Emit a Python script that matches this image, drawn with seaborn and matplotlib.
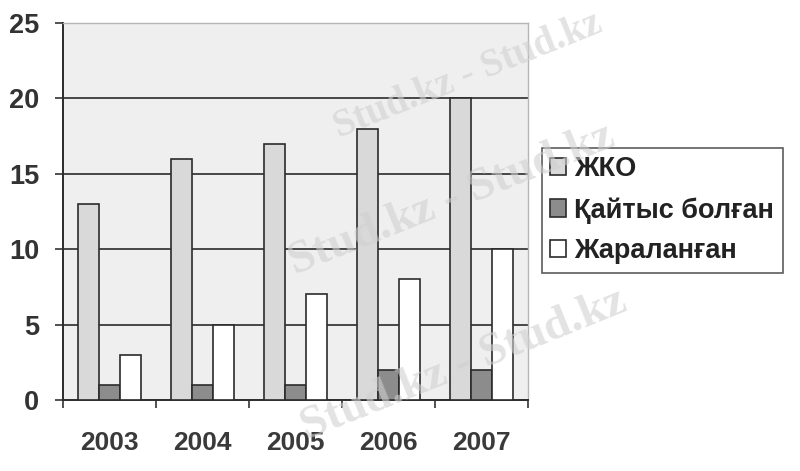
import matplotlib
matplotlib.use("Agg")
import matplotlib.pyplot as plt
import seaborn as sns
import pandas as pd
import numpy as np

# Road-traffic incident statistics by year
years = ["2003", "2004", "2005", "2006", "2007"]
series_names = ["ЖКО", "Қайтыс болған", "Жараланған"]
zhko = [13, 16, 17, 18, 20]
died = [1, 1, 1, 2, 2]
injured = [3, 5, 7, 8, 10]
y_ticks = [0, 5, 10, 15, 20, 25]

df = pd.DataFrame({
    "year": years * 3,
    "series": [series_names[0]] * 5 + [series_names[1]] * 5 + [series_names[2]] * 5,
    "value": zhko + died + injured,
})

sns.set_theme(style="white")
plt.rcParams["font.family"] = ["Liberation Sans", "DejaVu Sans"]

fig = plt.figure(figsize=(8, 4.71), dpi=100)
fig.patch.set_facecolor("white")
ax = fig.add_axes([63 / 800, 1 - 400 / 471, (528 - 63) / 800, (400 - 23) / 471])
ax.set_facecolor("#efefef")

palette = ["#d9d9d9", "#8c8c8c", "#ffffff"]
sns.barplot(data=df, x="year", y="value", hue="series", hue_order=series_names,
            order=years, palette=palette, edgecolor="#2b2b2b", linewidth=1.2,
            width=0.667, gap=0, ax=ax, legend=True, zorder=3)

ax.set_xlim(-0.5, 4.5)
ax.set_ylim(0, 25)
ax.set_xlabel("")
ax.set_ylabel("")

# horizontal grid lines
for v in y_ticks[1:-1]:
    ax.axhline(v, color="#3a3a3a", lw=1.3, zorder=1)

ax.set_yticks(y_ticks)
ax.set_yticklabels([str(t) for t in y_ticks], fontsize=19.5, fontweight="bold", color="#333333")
ax.tick_params(axis="y", which="major", direction="out", length=6, width=1.2, color="#333333", pad=11, left=True)

ax.set_xticks(range(len(years)))
ax.set_xticklabels(years, fontsize=19, fontweight="bold", color="#3a3a3a")
ax.tick_params(axis="x", which="major", length=0, pad=22)
ax.set_xticks(np.arange(-0.5, 5.0, 1.0), minor=True)
ax.tick_params(axis="x", which="minor", direction="out", length=6, width=1.2, color="#333333", bottom=True)

for side in ["left", "bottom"]:
    ax.spines[side].set_color("#2b2b2b")
    ax.spines[side].set_linewidth(1.4)
for side in ["top", "right"]:
    ax.spines[side].set_color("#b5b5b5")
    ax.spines[side].set_linewidth(1.0)

handles, labels = ax.get_legend_handles_labels()
ax.get_legend().remove()
leg = fig.legend(handles, labels, loc="upper left", bbox_to_anchor=(542 / 800, 1 - 148 / 471),
                 fontsize=19.5, frameon=True, fancybox=False, edgecolor="#333333",
                 handlelength=0.6, handleheight=0.6, handletextpad=0.3,
                 labelspacing=0.55, borderpad=0.3, borderaxespad=0)
leg.get_frame().set_linewidth(1.2)
for t in leg.get_texts():
    t.set_fontweight("bold")
    t.set_color("#222222")

# faint watermark
for (x, y, s) in [(0.585, 0.84, 28), (0.565, 0.575, 34), (0.58, 0.225, 34)]:
    fig.text(x, y, "Stud.kz - Stud.kz", fontsize=s, fontweight="bold",
             family=["Liberation Serif", "DejaVu Serif"], color="#d0d0d0",
             alpha=0.6, rotation=22, ha="center", va="center", zorder=10)

fig.savefig("out.png", dpi=100, facecolor="white")
